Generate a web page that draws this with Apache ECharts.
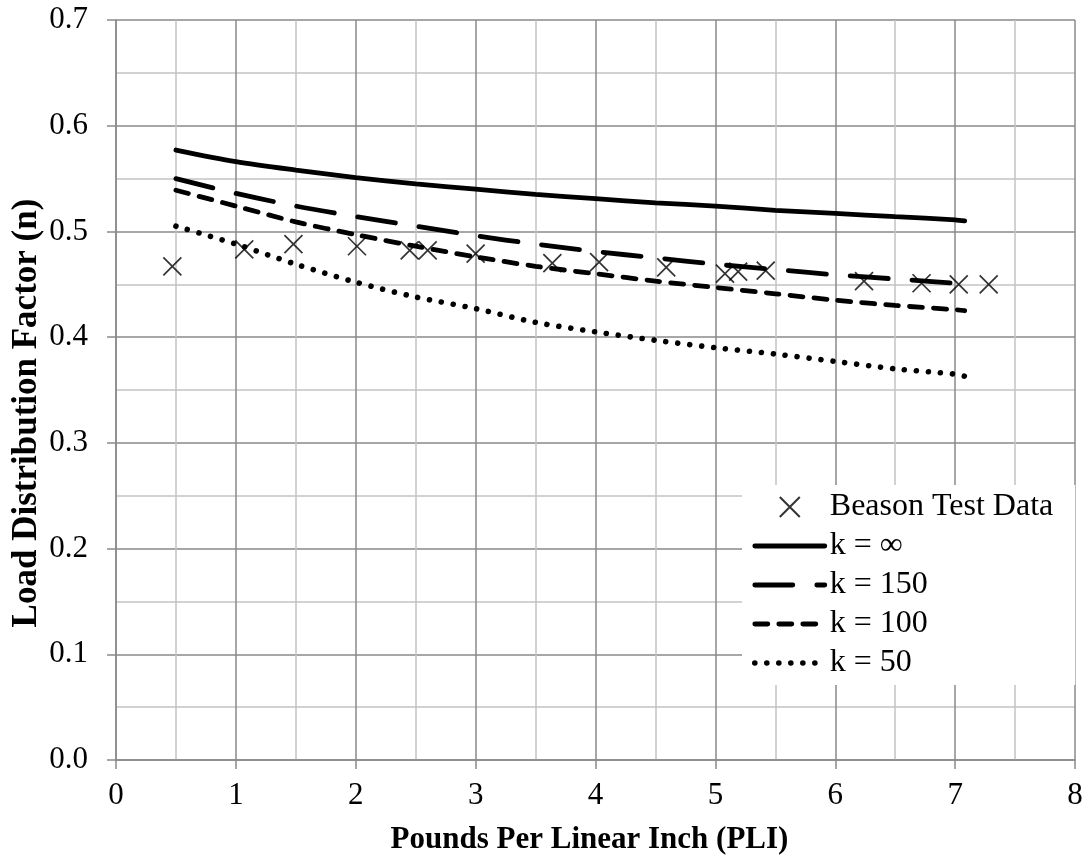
<!DOCTYPE html>
<html lang="en">
<head>
    <meta charset="UTF-8">
    <title>Load Distribution Factor</title>
    <script src="https://cdn.jsdelivr.net/npm/echarts@6/dist/echarts.min.js"></script>
    <style>
        html, body { margin: 0; padding: 0; background: #fff; }
    </style>
</head>
<body>
    <div id="main" style="width: 1091px; height: 861px;"></div>

    <script type="text/javascript">
        // curve sample points (PLI)
        const curveX = [0.5, 1, 1.5, 2, 2.5, 3, 3.5, 4, 4.5, 5, 5.5, 6, 6.5, 7, 7.08]
        const kInf = [0.577, 0.566, 0.558, 0.551, 0.545, 0.540, 0.535, 0.531, 0.527, 0.524, 0.520, 0.517, 0.514, 0.511, 0.510]
        const k150 = [0.550, 0.536, 0.524, 0.514, 0.505, 0.496, 0.488, 0.481, 0.475, 0.469, 0.464, 0.459, 0.455, 0.451, 0.450]
        const k100 = [0.539, 0.524, 0.509, 0.497, 0.486, 0.476, 0.467, 0.460, 0.453, 0.447, 0.441, 0.435, 0.430, 0.426, 0.425]
        const k50 = [0.505, 0.488, 0.469, 0.452, 0.438, 0.427, 0.414, 0.405, 0.397, 0.390, 0.384, 0.377, 0.370, 0.365, 0.363]

        // Beason test data
        const beasonX = [0.47, 1.07, 1.48, 2.01, 2.45, 2.60, 3.00, 3.64, 4.03, 4.59, 5.08, 5.19, 5.42, 6.24, 6.72, 7.03, 7.28]
        const beasonY = [0.467, 0.483, 0.488, 0.486, 0.482, 0.482, 0.479, 0.470, 0.471, 0.466, 0.460, 0.462, 0.463, 0.453, 0.451, 0.450, 0.450]

        const seriesNames = ['Beason Test Data', 'k = ∞', 'k = 150', 'k = 100', 'k = 50']

        const font = "'Liberation Serif', 'Times New Roman', serif"
        const majorGrid = '#8a8a8a'
        const minorGrid = '#c4c4c4'
        const lineW = 4.8

        function pairs(xs, ys) {
            return xs.map((x, i) => [x, ys[i]])
        }

        function curve(name, values, dash, width) {
            return {
                name: name,
                type: 'line',
                data: pairs(curveX, values),
                symbol: 'none',
                smooth: 0.3,
                lineStyle: { color: '#000', width: width || lineW, type: dash, cap: 'round' },
                // transparent so the legend does not show a dot on the line icon
                itemStyle: { color: 'rgba(0,0,0,0)', borderColor: 'rgba(0,0,0,0)', borderWidth: 0 },
                z: 3
            }
        }

        let options = {
            animation: false,
            backgroundColor: '#fff',
            textStyle: { fontFamily: font },
            grid: { left: 116, right: 16, top: 20, bottom: 101, outerBoundsMode: 'none' },
            legend: {
                orient: 'vertical',
                left: 742,
                top: 485,
                padding: [6, 22, 6, 10],
                backgroundColor: '#fff',
                itemWidth: 70,
                itemHeight: 20,
                itemGap: 7,
                data: seriesNames,
                lineStyle: { width: 'inherit' },
                textStyle: { fontFamily: font, fontSize: 32, color: '#000', lineHeight: 32 }
            },
            xAxis: {
                type: 'value',
                min: 0,
                max: 8,
                interval: 1,
                name: 'Pounds Per Linear Inch (PLI)',
                nameLocation: 'middle',
                nameGap: 64,
                nameTextStyle: { fontFamily: font, fontSize: 31, fontWeight: 'bold', color: '#000', padding: [0, 12, 0, 0] },
                axisLine: { show: true, lineStyle: { color: majorGrid, width: 1.5 } },
                axisTick: { show: true, length: 9, lineStyle: { color: majorGrid, width: 1.5 } },
                axisLabel: { fontFamily: font, fontSize: 31, color: '#000', margin: 20 },
                splitLine: { show: true, lineStyle: { color: majorGrid, width: 1.5 } },
                minorTick: { show: false, splitNumber: 2 },
                minorSplitLine: { show: true, lineStyle: { color: minorGrid, width: 1.5 } }
            },
            yAxis: {
                type: 'value',
                min: 0,
                max: 0.7,
                interval: 0.1,
                name: 'Load Distribution Factor (n)',
                nameLocation: 'middle',
                nameGap: 72,
                nameMoveOverlap: false,
                nameTextStyle: { fontFamily: font, fontSize: 35, fontWeight: 'bold', color: '#000', padding: [0, 46, 0, 0] },
                axisLine: { show: true, lineStyle: { color: majorGrid, width: 1.5 } },
                axisTick: { show: true, length: 9, lineStyle: { color: majorGrid, width: 1.5 } },
                axisLabel: { fontFamily: font, fontSize: 31, color: '#000', margin: 28, formatter: v => v.toFixed(1) },
                splitLine: { show: true, lineStyle: { color: majorGrid, width: 1.5 } },
                minorTick: { show: false, splitNumber: 2 },
                minorSplitLine: { show: true, lineStyle: { color: minorGrid, width: 1.5 } }
            },
            series: [
                {
                    name: seriesNames[0],
                    type: 'scatter',
                    data: pairs(beasonX, beasonY),
                    symbol: 'path://M0,0L10,10M10,0L0,10',
                    symbolSize: 18,
                    itemStyle: { color: 'rgba(0,0,0,0)', borderColor: '#000', borderWidth: 1.7 },
                    z: 4
                },
                curve(seriesNames[1], kInf, 'solid'),
                curve(seriesNames[2], k150, [38, 24]),
                curve(seriesNames[3], k100, [13, 11]),
                curve(seriesNames[4], k50, [0.01, 12], 5.6)
            ]
        }

        let myChart = echarts.init(document.getElementById('main'))
        myChart.setOption(options)
    </script>
</body>
</html>
